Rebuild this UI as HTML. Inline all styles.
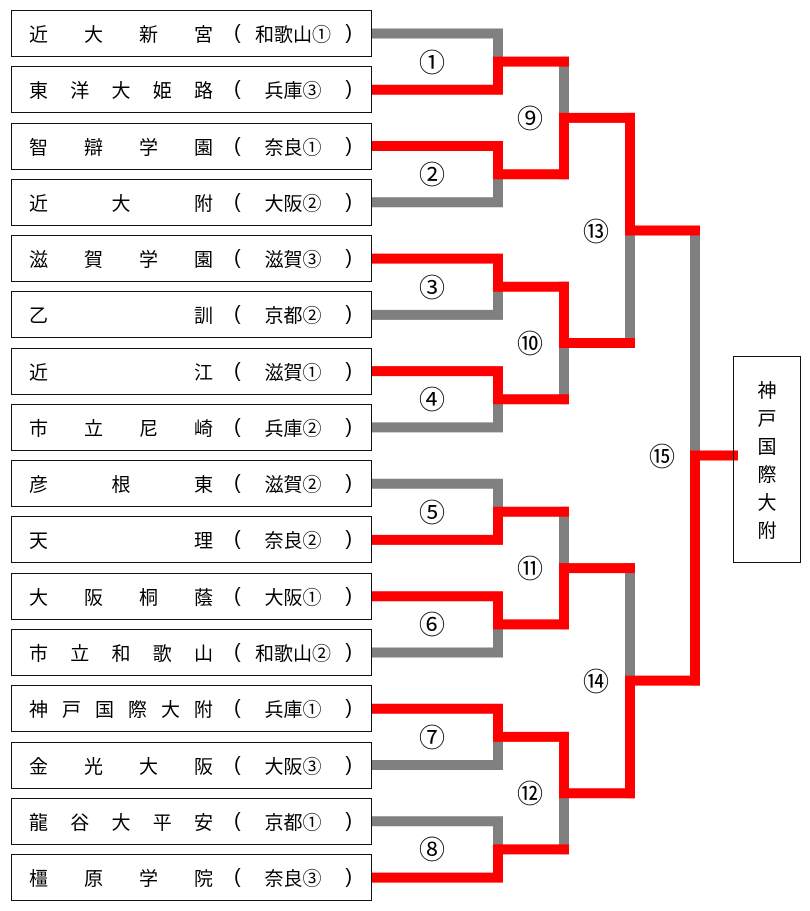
<!DOCTYPE html>
<html><head><meta charset="utf-8"><style>
body{margin:0;background:#fff;width:810px;height:911px;overflow:hidden;position:relative;font-family:"Liberation Sans","Noto Sans CJK JP",sans-serif;}
svg{position:absolute;left:0;top:0}
.b{position:absolute;left:11px;width:359px;height:45px;border:1.5px solid #111;background:#fff;font-size:19px;color:#000;font-family:"Noto Sans CJK JP",sans-serif}
.n{position:absolute;left:17px;width:184px;top:0;height:45px;display:flex;justify-content:space-between;align-items:center}
.p{position:absolute;left:222px;width:118px;top:0;height:45px;display:flex;align-items:center}
.p .o{font-family:"Liberation Sans",sans-serif;font-size:20px}
.p .m{flex:1;text-align:center}
.lbl{position:absolute;font-size:26px;font-family:"Noto Sans CJK JP",sans-serif;transform:translate(-50%,-50%);line-height:1}
.f{position:absolute;left:733px;top:356px;width:66px;height:205px;border:1.5px solid #111;font-size:19px;font-family:"Noto Sans CJK JP",sans-serif;display:flex;flex-direction:column;align-items:center;justify-content:center;line-height:28px}
</style></head><body>
<svg width="810" height="911" stroke-width="10" stroke-linecap="square" fill="none">
<g stroke="#808080">
<path d="M372 33.5H498V61.6"/>
<path d="M372 202.3H498V174.2"/>
<path d="M372 314.9H498V286.7"/>
<path d="M372 427.4H498V399.3"/>
<path d="M372 483.7H498V511.8"/>
<path d="M372 652.5H498V624.4"/>
<path d="M372 765H498V736.9"/>
<path d="M372 821.3H498V849.4"/>
<path d="M564 61.6V117.9"/>
<path d="M564 399.3V343"/>
<path d="M564 511.8V568.1"/>
<path d="M564 849.4V793.2"/>
<path d="M630 343V230.5"/>
<path d="M630 568.1V680.6"/>
<path d="M695 230.5V455.5"/>
</g>
<g stroke="#ff0000">
<path d="M372 89.8H498V61.6H564"/>
<path d="M372 146H498V174.2H564"/>
<path d="M372 258.6H498V286.7H564"/>
<path d="M372 371.1H498V399.3H564"/>
<path d="M372 539.9H498V511.8H564"/>
<path d="M372 596.2H498V624.4H564"/>
<path d="M372 708.7H498V736.9H564"/>
<path d="M372 877.6H498V849.4H564"/>
<path d="M564 174.2V117.9H630"/>
<path d="M564 286.7V343H630"/>
<path d="M564 624.4V568.1H630"/>
<path d="M564 736.9V793.2H630"/>
<path d="M630 117.9V230.5H695"/>
<path d="M630 793.2V680.6H695"/>
<path d="M695 680.6V455.5H733"/>
</g>
</svg>

<div class="b" style="top:10px"><div class="n"><span>近</span><span>大</span><span>新</span><span>宮</span></div><div class="p"><span class="o">(</span><span class="m">和歌山①</span><span class="o">)</span></div></div>
<div class="b" style="top:66.3px"><div class="n"><span>東</span><span>洋</span><span>大</span><span>姫</span><span>路</span></div><div class="p"><span class="o">(</span><span class="m">兵庫③</span><span class="o">)</span></div></div>
<div class="b" style="top:122.5px"><div class="n"><span>智</span><span>辯</span><span>学</span><span>園</span></div><div class="p"><span class="o">(</span><span class="m">奈良①</span><span class="o">)</span></div></div>
<div class="b" style="top:178.8px"><div class="n"><span>近</span><span>大</span><span>附</span></div><div class="p"><span class="o">(</span><span class="m">大阪②</span><span class="o">)</span></div></div>
<div class="b" style="top:235.1px"><div class="n"><span>滋</span><span>賀</span><span>学</span><span>園</span></div><div class="p"><span class="o">(</span><span class="m">滋賀③</span><span class="o">)</span></div></div>
<div class="b" style="top:291.4px"><div class="n"><span>乙</span><span>訓</span></div><div class="p"><span class="o">(</span><span class="m">京都②</span><span class="o">)</span></div></div>
<div class="b" style="top:347.6px"><div class="n"><span>近</span><span>江</span></div><div class="p"><span class="o">(</span><span class="m">滋賀①</span><span class="o">)</span></div></div>
<div class="b" style="top:403.9px"><div class="n"><span>市</span><span>立</span><span>尼</span><span>崎</span></div><div class="p"><span class="o">(</span><span class="m">兵庫②</span><span class="o">)</span></div></div>
<div class="b" style="top:460.2px"><div class="n"><span>彦</span><span>根</span><span>東</span></div><div class="p"><span class="o">(</span><span class="m">滋賀②</span><span class="o">)</span></div></div>
<div class="b" style="top:516.4px"><div class="n"><span>天</span><span>理</span></div><div class="p"><span class="o">(</span><span class="m">奈良②</span><span class="o">)</span></div></div>
<div class="b" style="top:572.7px"><div class="n"><span>大</span><span>阪</span><span>桐</span><span>蔭</span></div><div class="p"><span class="o">(</span><span class="m">大阪①</span><span class="o">)</span></div></div>
<div class="b" style="top:629px"><div class="n"><span>市</span><span>立</span><span>和</span><span>歌</span><span>山</span></div><div class="p"><span class="o">(</span><span class="m">和歌山②</span><span class="o">)</span></div></div>
<div class="b" style="top:685.2px"><div class="n"><span>神</span><span>戸</span><span>国</span><span>際</span><span>大</span><span>附</span></div><div class="p"><span class="o">(</span><span class="m">兵庫①</span><span class="o">)</span></div></div>
<div class="b" style="top:741.5px"><div class="n"><span>金</span><span>光</span><span>大</span><span>阪</span></div><div class="p"><span class="o">(</span><span class="m">大阪③</span><span class="o">)</span></div></div>
<div class="b" style="top:797.8px"><div class="n"><span>龍</span><span>谷</span><span>大</span><span>平</span><span>安</span></div><div class="p"><span class="o">(</span><span class="m">京都①</span><span class="o">)</span></div></div>
<div class="b" style="top:854.1px"><div class="n"><span>橿</span><span>原</span><span>学</span><span>院</span></div><div class="p"><span class="o">(</span><span class="m">奈良③</span><span class="o">)</span></div></div>

<div class="lbl" style="left:432px;top:61.6px">①</div>
<div class="lbl" style="left:432px;top:174.2px">②</div>
<div class="lbl" style="left:432px;top:286.7px">③</div>
<div class="lbl" style="left:432px;top:399.3px">④</div>
<div class="lbl" style="left:432px;top:511.8px">⑤</div>
<div class="lbl" style="left:432px;top:624.4px">⑥</div>
<div class="lbl" style="left:432px;top:736.9px">⑦</div>
<div class="lbl" style="left:432px;top:849.4px">⑧</div>
<div class="lbl" style="left:530px;top:117.9px">⑨</div>
<div class="lbl" style="left:530px;top:343px">⑩</div>
<div class="lbl" style="left:530px;top:568.1px">⑪</div>
<div class="lbl" style="left:530px;top:793.2px">⑫</div>
<div class="lbl" style="left:596px;top:230.5px">⑬</div>
<div class="lbl" style="left:596px;top:680.6px">⑭</div>
<div class="lbl" style="left:662px;top:455.5px">⑮</div>

<div class="f"><span>神</span><span>戸</span><span>国</span><span>際</span><span>大</span><span>附</span></div>
</body></html>
